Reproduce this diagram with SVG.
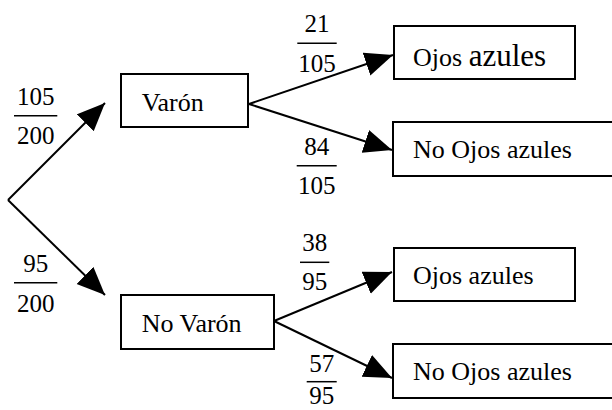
<svg xmlns="http://www.w3.org/2000/svg" width="612" height="410" viewBox="0 0 612 410">
<defs>
<marker id="ah" markerUnits="userSpaceOnUse" markerWidth="30" markerHeight="26" refX="28" refY="12" orient="auto">
<path d="M0,0 L28,12 L0,24 z" fill="#000"/>
</marker>
</defs>
<rect width="612" height="410" fill="#fff"/>
<g id="connectors" stroke="#000" stroke-width="2" fill="none">
<line x1="8" y1="200" x2="105" y2="103" marker-end="url(#ah)"/>
<line x1="8" y1="200" x2="105" y2="295" marker-end="url(#ah)"/>
<line x1="249" y1="104" x2="393" y2="55" marker-end="url(#ah)"/>
<line x1="249" y1="104" x2="392" y2="150" marker-end="url(#ah)"/>
<line x1="274" y1="321" x2="392" y2="272" marker-end="url(#ah)"/>
<line x1="274" y1="321" x2="392" y2="378" marker-end="url(#ah)"/>
</g>
<g id="frac-105-200">
<text x="35.7" y="105" font-family="Times New Roman, Liberation Serif, serif" font-size="25" text-anchor="middle" fill="#000">105</text>
<line x1="14" y1="115.7" x2="57.3" y2="115.7" stroke="#000" stroke-width="1.5"/>
<text x="35.7" y="144" font-family="Times New Roman, Liberation Serif, serif" font-size="25" text-anchor="middle" fill="#000">200</text>
</g>
<g id="frac-95-200">
<text x="35.7" y="271.7" font-family="Times New Roman, Liberation Serif, serif" font-size="25" text-anchor="middle" fill="#000">95</text>
<line x1="14" y1="282.7" x2="57.3" y2="282.7" stroke="#000" stroke-width="1.5"/>
<text x="35.7" y="311.7" font-family="Times New Roman, Liberation Serif, serif" font-size="25" text-anchor="middle" fill="#000">200</text>
</g>
<g id="frac-21-105">
<text x="317" y="31.7" font-family="Times New Roman, Liberation Serif, serif" font-size="25" text-anchor="middle" fill="#000">21</text>
<line x1="297.3" y1="43.3" x2="336.7" y2="43.3" stroke="#000" stroke-width="1.5"/>
<text x="317" y="71.7" font-family="Times New Roman, Liberation Serif, serif" font-size="25" text-anchor="middle" fill="#000">105</text>
</g>
<g id="frac-84-105">
<text x="316.7" y="155" font-family="Times New Roman, Liberation Serif, serif" font-size="25" text-anchor="middle" fill="#000">84</text>
<line x1="296.7" y1="165.7" x2="336.7" y2="165.7" stroke="#000" stroke-width="1.5"/>
<text x="316.7" y="194" font-family="Times New Roman, Liberation Serif, serif" font-size="25" text-anchor="middle" fill="#000">105</text>
</g>
<g id="frac-38-95">
<text x="314.7" y="250.7" font-family="Times New Roman, Liberation Serif, serif" font-size="25" text-anchor="middle" fill="#000">38</text>
<line x1="300" y1="262.3" x2="329.3" y2="262.3" stroke="#000" stroke-width="1.5"/>
<text x="314.7" y="290" font-family="Times New Roman, Liberation Serif, serif" font-size="25" text-anchor="middle" fill="#000">95</text>
</g>
<g id="frac-57-95">
<text x="321.7" y="372" font-family="Times New Roman, Liberation Serif, serif" font-size="25" text-anchor="middle" fill="#000">57</text>
<line x1="306.7" y1="381.7" x2="336.7" y2="381.7" stroke="#000" stroke-width="1.5"/>
<text x="321.7" y="404" font-family="Times New Roman, Liberation Serif, serif" font-size="25" text-anchor="middle" fill="#000">95</text>
</g>
<g id="varon">
<rect x="121" y="74" width="127" height="53" fill="#fff" stroke="#000" stroke-width="2"/>
<text x="141.7" y="111" font-family="Times New Roman, Liberation Serif, serif" font-size="26" fill="#000">Varón</text>
</g>
<g id="no-varon">
<rect x="121" y="295" width="153" height="54" fill="#fff" stroke="#000" stroke-width="2"/>
<text x="141.7" y="331.7" font-family="Times New Roman, Liberation Serif, serif" font-size="26" fill="#000">No Varón</text>
</g>
<g id="ojos-azules-1">
<rect x="394" y="26" width="181" height="53" fill="#fff" stroke="#000" stroke-width="2"/>
<text x="413" y="66" font-family="Times New Roman, Liberation Serif, serif" font-size="26" fill="#000">Ojos <tspan font-size="31">azules</tspan></text>
</g>
<g id="no-ojos-azules-1">
<rect x="393" y="122" width="220" height="54" fill="#fff" stroke="#000" stroke-width="2"/>
<text x="413" y="158.3" font-family="Times New Roman, Liberation Serif, serif" font-size="26" fill="#000">No Ojos azules</text>
</g>
<g id="ojos-azules-2">
<rect x="394" y="248" width="181" height="53" fill="#fff" stroke="#000" stroke-width="2"/>
<text x="413" y="284" font-family="Times New Roman, Liberation Serif, serif" font-size="26" fill="#000">Ojos azules</text>
</g>
<g id="no-ojos-azules-2">
<rect x="393" y="344" width="220" height="54" fill="#fff" stroke="#000" stroke-width="2"/>
<text x="413" y="380" font-family="Times New Roman, Liberation Serif, serif" font-size="26" fill="#000">No Ojos azules</text>
</g>
</svg>
